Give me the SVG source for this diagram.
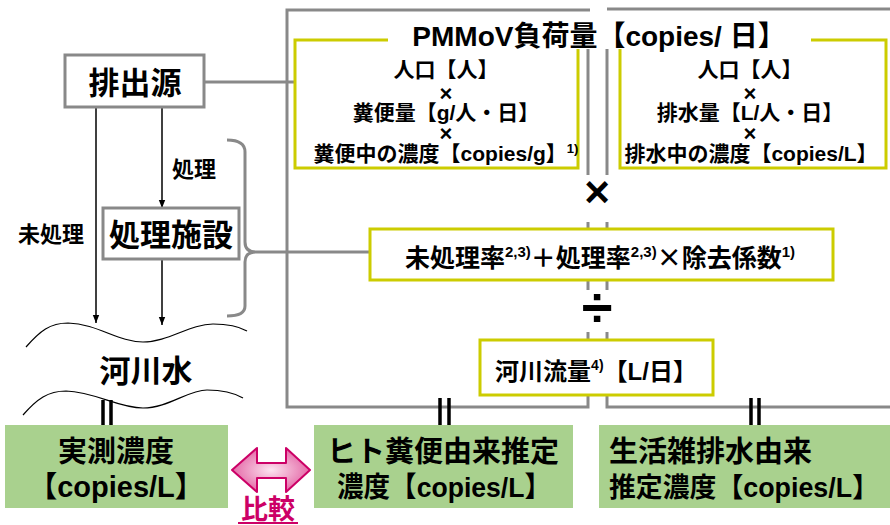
<svg xmlns="http://www.w3.org/2000/svg" width="890" height="525" viewBox="0 0 890 525">
<style>
.t{font-family:"Liberation Sans","Noto Sans CJK JP",sans-serif;font-weight:bold;fill:#000;text-anchor:middle}
.g{fill:none;stroke:#898989;stroke-width:3}
.y{fill:#fff;stroke:#CCCC00;stroke-width:3}
.gb{fill:#fff;stroke:#898989;stroke-width:3}
.k{fill:none;stroke:#000;stroke-width:1.5}
.eq{stroke:#000;stroke-width:3.5}
.grn{fill:#A9D18E}
</style>
<defs>
<marker id="ah" viewBox="0 0 10 10" refX="10" refY="5" markerWidth="8" markerHeight="8" markerUnits="userSpaceOnUse" orient="auto">
<path d="M0,1 L10,5 L0,9 Z" fill="#000"/>
</marker>
<radialGradient id="pk" cx="50%" cy="50%" r="60%">
<stop offset="0" stop-color="#FCE4F0"/>
<stop offset="1" stop-color="#E0529A"/>
</radialGradient>
</defs>

<g id="frames">
<path class="g" d="M590,10 H287 V407 H588 V332 M588,290 V222 M588,175 V48"/>
<path class="g" d="M607,48 V175 M607,222 V290 M607,332 V407 H890 M607,9 H890"/>
</g>

<g id="connectors">
<line x1="195" y1="82" x2="332" y2="82" stroke="#898989" stroke-width="3"/>
<circle cx="195" cy="82" r="4.5" fill="#898989"/>
<circle cx="332" cy="82" r="4.5" fill="#898989"/>
<path class="g" d="M227,140 Q245,140 245,152 L245,242 Q245,252 256,252 Q245,252 245,262 L245,306 Q245,316 227,316"/>
<line x1="256" y1="252" x2="374" y2="252" stroke="#898989" stroke-width="3"/>
<circle cx="374" cy="252" r="4.5" fill="#898989"/>
<line class="k" x1="96" y1="107" x2="96" y2="323" marker-end="url(#ah)"/>
<line class="k" x1="162" y1="107" x2="162" y2="208" marker-end="url(#ah)"/>
<line class="k" x1="162" y1="259" x2="162" y2="325" marker-end="url(#ah)"/>
<line class="eq" x1="103" y1="400" x2="103" y2="426"/>
<line class="eq" x1="111" y1="400" x2="111" y2="426"/>
<line class="eq" x1="440" y1="398" x2="440" y2="426"/>
<line class="eq" x1="449" y1="398" x2="449" y2="426"/>
<line class="eq" x1="751" y1="398" x2="751" y2="426"/>
<line class="eq" x1="759" y1="398" x2="759" y2="426"/>
</g>

<g id="source">
<rect class="gb" x="65" y="55" width="139" height="52"/>
<text class="t" x="135" y="94" font-size="31">排出源</text>
</g>

<g id="label-shori"><text class="t" x="194" y="177" font-size="22">処理</text></g>
<g id="label-mishori"><text class="t" x="51" y="242" font-size="22">未処理</text></g>

<g id="facility">
<rect class="gb" x="103" y="208" width="136" height="51"/>
<text class="t" x="171" y="246" font-size="31">処理施設</text>
</g>

<g id="river">
<path fill="none" stroke="#000" stroke-width="1.2" d="M26,347 C40,331 50,323 68,323 C98,324 118,342 143,342 C168,342 190,324 213,324 C230,324 240,327 247,331"/>
<path fill="none" stroke="#000" stroke-width="1.2" d="M23,415 C37,399 48,391 66,391 C96,392 118,408 143,408 C168,408 188,390 207,390 C225,390 236,394 243,398"/>
<text class="t" x="146" y="382" font-size="31">河川水</text>
</g>

<g id="feces-box">
<rect class="y" x="295" y="40" width="283" height="128" fill="none"/>
<text class="t" x="446" y="77" font-size="21">人口【人】</text>
<text class="t" x="446" y="101" font-size="22">×</text>
<text class="t" x="446" y="120" font-size="21">糞便量【g/人・日】</text>
<text class="t" x="446" y="141" font-size="22">×</text>
<text class="t" x="446" y="161" font-size="21">糞便中の濃度【copies/g】<tspan font-size="13" dy="-8">1)</tspan></text>
</g>

<g id="greywater-box">
<rect class="y" x="620" y="40" width="266" height="128" fill="none"/>
<text class="t" x="750" y="77" font-size="21">人口【人】</text>
<text class="t" x="750" y="101" font-size="22">×</text>
<text class="t" x="750" y="120" font-size="21">排水量【L/人・日】</text>
<text class="t" x="750" y="141" font-size="22">×</text>
<text class="t" x="751" y="161" font-size="21">排水中の濃度【copies/L】</text>
</g>

<g id="title">
<rect x="388" y="20" width="423" height="29" fill="#fff"/>
<text class="t" x="599" y="46" font-size="28">PMMoV負荷量【copies/ 日】</text>
</g>

<g id="op-times"><text class="t" x="597" y="207" font-size="44">×</text></g>

<g id="rate-box">
<rect class="y" x="370" y="229" width="463" height="51"/>
<text class="t" x="600" y="267" font-size="25">未処理率<tspan font-size="15" dy="-10">2,3)</tspan><tspan dy="10">＋処理率</tspan><tspan font-size="15" dy="-10">2,3)</tspan><tspan dy="10" font-family="Noto Sans CJK JP">×</tspan><tspan>除去係数</tspan><tspan font-size="15" dy="-10">1)</tspan></text>
</g>

<g id="op-div"><text class="t" x="597" y="327" font-size="56">÷</text></g>

<g id="flow-box">
<rect class="y" x="480" y="340" width="233" height="55"/>
<text class="t" x="596" y="380" font-size="24">河川流量<tspan font-size="14" dy="-10">4)</tspan><tspan dy="10">【L/日】</tspan></text>
</g>

<g id="measured">
<rect class="grn" x="5" y="425" width="223" height="83"/>
<text class="t" x="116" y="462" font-size="29">実測濃度</text>
<text class="t" x="116" y="497" font-size="29">【copies/L】</text>
</g>

<g id="compare">
<polygon points="232,470 257,448 257,463 286,463 286,448 310,470 286,492 286,478 257,478 257,492" fill="url(#pk)" stroke="#CC0066" stroke-width="2" stroke-linejoin="round"/>
<text class="t" x="268" y="519" font-size="27" style="fill:#CC0066">比較</text>
<line x1="238" y1="523" x2="298" y2="523" stroke="#CC0066" stroke-width="2"/>
</g>

<g id="human-est">
<rect class="grn" x="314" y="425" width="259" height="83"/>
<text class="t" x="443" y="462" font-size="29">ヒト糞便由来推定</text>
<text class="t" x="444" y="497" font-size="28" textLength="214" lengthAdjust="spacingAndGlyphs">濃度【copies/L】</text>
</g>

<g id="grey-est">
<rect class="grn" x="599" y="425" width="291" height="83"/>
<text class="t" x="609" y="462" font-size="29" style="text-anchor:start">生活雑排水由来</text>
<text class="t" x="609" y="497" font-size="27" style="text-anchor:start" textLength="270" lengthAdjust="spacingAndGlyphs">推定濃度【copies/L】</text>
</g>
</svg>
